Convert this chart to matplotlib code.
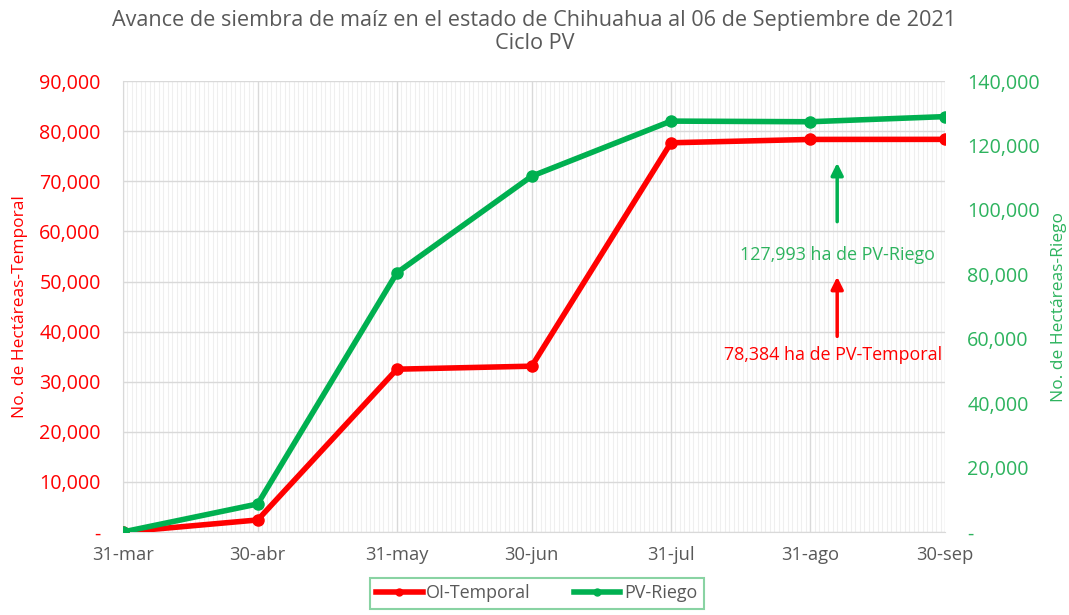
import matplotlib
matplotlib.use("Agg")
import matplotlib.pyplot as plt
import matplotlib.dates as mdates
import matplotlib.ticker as mticker
import pandas as pd
from matplotlib.lines import Line2D

dates = ["2021-03-31", "2021-04-30", "2021-05-31", "2021-06-30", "2021-07-31", "2021-08-31", "2021-09-30"]
date_labels = ["31-mar", "30-abr", "31-may", "30-jun", "31-jul", "31-ago", "30-sep"]
ol_temporal = [0, 2400, 32500, 33100, 77700, 78370, 78384]
pv_riego = [0, 8700, 80500, 110500, 127600, 127400, 129000]

RED = "#FF0000"
GREEN = "#00B050"
GREEN_TXT = "#2DB35E"
GRAY = "#595959"

plt.rcParams['font.family'] = ['Open Sans', 'DejaVu Sans']

x = mdates.date2num(pd.to_datetime(dates))

fig = plt.figure(figsize=(10.69, 6.15), dpi=100)
ax = fig.add_axes([0.115, 0.135, 0.769, 0.733])
ax2 = ax.twinx()

ax.plot(x, ol_temporal, color=RED, lw=4, marker='o', ms=8, zorder=5, solid_capstyle='round')
ax2.plot(x, pv_riego, color=GREEN, lw=4, marker='o', ms=8, zorder=5, solid_capstyle='round')

ax.set_xlim(x[0], x[-1])
ax.set_ylim(0, 90000)
ax2.set_ylim(0, 140000)

ax.xaxis.set_major_locator(mticker.FixedLocator(x))
ax.xaxis.set_major_formatter(mticker.FixedFormatter(date_labels))
ax.xaxis.set_minor_locator(mdates.DayLocator())
ax.yaxis.set_major_locator(mticker.MultipleLocator(10000))
ax2.yaxis.set_major_locator(mticker.MultipleLocator(20000))

def fmt(v, pos):
    return "-" if v == 0 else f"{int(v):,}"
ax.yaxis.set_major_formatter(mticker.FuncFormatter(fmt))
ax2.yaxis.set_major_formatter(mticker.FuncFormatter(fmt))

ax.grid(which='minor', axis='x', color='#EFEFEF', lw=0.8)
ax.grid(which='major', axis='x', color='#D9D9D9', lw=1.0)
ax.grid(which='major', axis='y', color='#D9D9D9', lw=1.0)
ax.set_axisbelow(True)

for a in (ax, ax2):
    for s in a.spines.values():
        s.set_visible(False)
ax.spines['left'].set_visible(True)
ax.spines['left'].set_color('#D9D9D9')
ax.spines['bottom'].set_visible(True)
ax.spines['bottom'].set_color('#D9D9D9')

ax.tick_params(axis='x', which='both', length=0, labelsize=13.2, labelcolor=GRAY, pad=10)
ax.tick_params(axis='y', length=0, labelsize=14.2, labelcolor=RED, pad=16)
ax2.tick_params(axis='y', length=0, labelsize=14.2, labelcolor=GREEN_TXT, pad=16)

ax.set_ylabel("No. de Hectáreas-Temporal", color=RED, fontsize=12.5, labelpad=8)
ax2.set_ylabel("No. de Hectáreas-Riego", color=GREEN_TXT, fontsize=12.5, labelpad=8)

fig.text(0.5, 0.983, "Avance de siembra de maíz en el estado de Chihuahua al 06 de Septiembre de 2021\nCiclo PV",
         ha='center', va='top', fontsize=15.6, color=GRAY, linespacing=1.1)

arrow_x = mdates.date2num(pd.Timestamp("2021-09-06"))
ax2.annotate("", xy=(arrow_x, 115500), xytext=(arrow_x, 95500),
             arrowprops=dict(arrowstyle='-|>', color=GREEN, lw=2.5, mutation_scale=18))
ax2.text(arrow_x, 86000, "127,993 ha de PV-Riego", color=GREEN_TXT, fontsize=12.9, ha='center', va='center')
ax.annotate("", xy=(arrow_x, 51500), xytext=(arrow_x, 38500),
            arrowprops=dict(arrowstyle='-|>', color=RED, lw=2.5, mutation_scale=18))
ax.text(arrow_x - 1, 35300, "78,384 ha de PV-Temporal", color=RED, fontsize=12.9, ha='center', va='center')

handles = [Line2D([0], [0], color=RED, lw=4, marker='o', ms=5),
           Line2D([0], [0], color=GREEN, lw=4, marker='o', ms=5)]
leg = fig.legend(handles, ["OI-Temporal", "PV-Riego"], loc='center', bbox_to_anchor=(0.502, 0.035),
                 ncol=2, frameon=True, fontsize=12.9, fancybox=False, handlelength=2.6,
                 handletextpad=0.2, columnspacing=2.4, borderpad=0.35, borderaxespad=0)
leg.get_frame().set_edgecolor('#6CC98C')
leg.get_frame().set_linewidth(1.5)
for t in leg.get_texts():
    t.set_color(GRAY)

fig.savefig("out.png", dpi=100)
